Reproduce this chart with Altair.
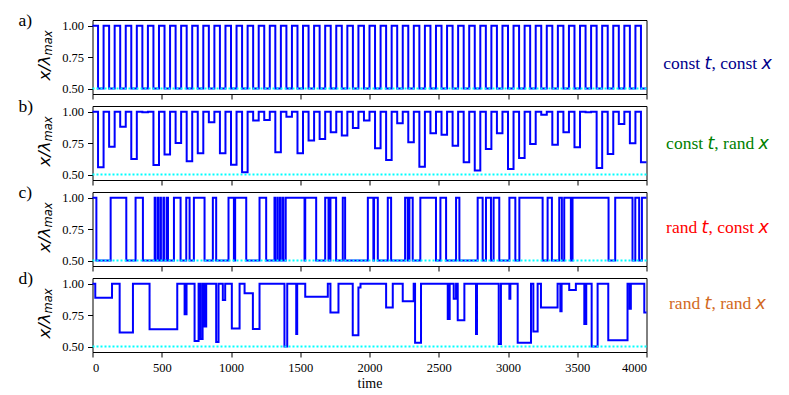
import altair as alt
import pandas as pd

T_END = 4000

# panel a: constant switching times, constant low value
A_SWITCH = [40, 80, 120, 160, 200, 240, 280, 320, 360, 400, 440, 480, 520, 560, 600, 640, 680, 720,
            760, 800, 840, 880, 920, 960, 1000, 1040, 1080, 1120, 1160, 1200, 1240, 1280, 1320, 1360,
            1400, 1440, 1480, 1520, 1560, 1600, 1640, 1680, 1720, 1760, 1800, 1840, 1880, 1920, 1960,
            2000, 2040, 2080, 2120, 2160, 2200, 2240, 2280, 2320, 2360, 2400, 2440, 2480, 2520, 2560,
            2600, 2640, 2680, 2720, 2760, 2800, 2840, 2880, 2920, 2960, 3000, 3040, 3080, 3120, 3160,
            3200, 3240, 3280, 3320, 3360, 3400, 3440, 3480, 3520, 3560, 3600, 3640, 3680, 3720, 3760,
            3800, 3840, 3880, 3920, 3960]
A_LOW = 0.5

# panel b: same switching times, random low values
B_LOW = [0.558, 0.722, 0.881, 0.624, 0.995, 0.577, 0.659, 0.751, 0.606, 0.669,
         0.915, 0.669, 0.579, 0.519, 0.929, 0.934, 0.677, 0.960, 0.669, 0.770,
         0.783, 0.836, 0.810, 0.870, 0.929, 0.709, 0.616, 0.907, 0.757, 0.563,
         0.828, 0.817, 0.730, 0.598, 0.532, 0.704, 0.828, 0.545, 0.632, 0.743,
         0.976, 0.738, 0.836, 0.717, 0.995, 0.553, 0.664, 0.902, 0.749, 0.598]

# panel c: random switching times, constant low value
C_SWITCH = [28, 131, 244, 311, 364, 449, 453, 470, 474, 490, 494, 512, 516, 535,
            545, 588, 636, 677, 701, 732, 809, 869, 893, 982, 1021, 1030, 1110,
            1206, 1254, 1314, 1318, 1334, 1338, 1354, 1358, 1374, 1378,
            1395, 1531, 1536, 1615, 1680, 1704, 1718, 1759, 1807, 1824, 1988, 2028, 2033, 2060,
            2132, 2156, 2257, 2276, 2288, 2312, 2367, 2480, 2512, 2553, 2625, 2649, 2781, 2817, 2841,
            2877, 2896, 2937, 3010, 3053, 3082, 3250, 3286, 3317, 3370, 3389, 3406, 3454, 3466, 3726,
            3774, 3899, 3919, 3947, 3967]
C_LOW = 0.5

# panel d: random switching times, random values
D_T = [0, 20, 141, 196, 292, 412, 612, 665, 679, 737, 766, 780, 795, 809, 821, 893, 910, 941, 958,
       1006, 1062, 1098, 1158, 1206, 1386, 1406, 1471, 1478, 1536, 1699, 1718, 1776, 1879, 1920,
       1935, 2120, 2168, 2240, 2319, 2329, 2372, 2565, 2579, 2608, 2625, 2637, 2685, 2769, 2776,
       2933, 2949, 3010, 3017, 3070, 3166, 3183, 3214, 3238, 3358, 3378, 3387, 3442, 3490, 3551,
       3565, 3604, 3647, 3724, 3863, 3878, 3887, 3984]
D_V = [1.0, 0.889, 1.0, 0.611, 1.0, 0.638, 1.0, 0.757, 1.0, 0.545, 1.0, 0.56, 1.0, 0.66, 1.0, 0.537,
       1.0, 0.87, 1.0, 0.643, 1.0, 0.923, 0.64, 1.0, 0.50, 1.0, 0.60, 1.0, 0.897, 1.0, 0.77, 1.0,
       0.59, 0.97, 1.0, 0.81, 1.0, 0.86, 1.0, 0.53, 1.0, 0.72, 1.0, 0.88, 1.0, 0.71, 1.0, 0.60, 1.0,
       0.52, 1.0, 0.88, 1.0, 0.53, 1.0, 0.62, 1.0, 0.81, 1.0, 0.78, 1.0, 0.95, 1.0, 0.68, 1.0, 0.50,
       1.0, 0.55, 1.0, 0.80, 1.0, 0.77]

X_TICKS = [0, 500, 1000, 1500, 2000, 2500, 3000, 3500, 4000]
Y_TICKS = [0.5, 0.75, 1.0]
REF_LEVEL = 0.5
PANEL_TAGS = ["a)", "b)", "c)", "d)"]
RIGHT_LABELS = [
    [("const ", "serif"), ("t", "math"), (", const ", "serif"), ("x", "math")],
    [("const ", "serif"), ("t", "math"), (", rand ", "serif"), ("x", "math")],
    [("rand ", "serif"), ("t", "math"), (", const ", "serif"), ("x", "math")],
    [("rand ", "serif"), ("t", "math"), (", rand ", "serif"), ("x", "math")],
]
LABEL_COLORS = ["#00008B", "#008000", "#FF0000", "#D2691E"]
Y_TITLE_MAIN = "x/λ"
Y_TITLE_SUB = "max"
X_TITLE = "time"

# ---------------- layout ----------------
W, H = 554, 74
LBL_FS = 17.5
SERIF_W = {'c': .444, 'o': .5, 'n': .5, 's': .389, 't': .278, 'r': .333, 'a': .444,
           'd': .5, ',': .25, ' ': .25}
MATH_W = {'t': .392, 'x': .592}
LABEL_CX = 625.0
LABEL_Y = [44.3, 37.7, 35.7, 25.7]
YT_MAIN_FS, YT_SUB_FS = 16.5, 11.5
YT_X = -47.5
YT_MID = 35.5


def alternating(switch, lows):
    ts = [0] + list(switch)
    vs = []
    for i in range(len(ts)):
        vs.append(1.0 if i % 2 == 0 else lows[(i // 2)])
    ts.append(T_END)
    vs.append(vs[-1])
    return pd.DataFrame({"t": ts, "v": vs})


df_a = alternating(A_SWITCH, [A_LOW] * len(A_SWITCH))
df_b = alternating(A_SWITCH, B_LOW)
df_c = alternating(C_SWITCH, [C_LOW] * len(C_SWITCH))
df_d = pd.DataFrame({"t": D_T + [T_END], "v": D_V + [D_V[-1]]})
frames = [df_a, df_b, df_c, df_d]

yscale = alt.Scale(domain=[0.457, 1.045], nice=False, zero=False)
yaxis = alt.Axis(values=Y_TICKS, format=".2f", title=None, labelFontSize=12.5, labelPadding=4,
                 labelOverlap=False, tickCount=3)


def txt_chart(s):
    return alt.Chart(pd.DataFrame({"s": [s]}))


def panel(i, df, bottom):
    xaxis = alt.Axis(values=X_TICKS, labels=bottom, title=X_TITLE if bottom else None, format="d",
                     labelFontSize=12.5, titleFontSize=14, titleFont="Liberation Serif",
                     titleFontWeight="normal", titlePadding=3, labelPadding=4)
    line = alt.Chart(df).mark_line(interpolate="step-after", color="#0000FF",
                                   strokeWidth=2).encode(
        x=alt.X("t:Q", scale=alt.Scale(domain=[0, T_END], nice=False, zero=False), axis=xaxis),
        y=alt.Y("v:Q", scale=yscale, axis=yaxis),
    )
    rule = alt.Chart(pd.DataFrame({"level": [REF_LEVEL]})).mark_rule(
        color="#00FFFF", strokeWidth=2, strokeDash=[2, 2]).encode(
        y=alt.Y("level:Q", scale=yscale, axis=yaxis), x=alt.value(0), x2=alt.value(W))
    tag = txt_chart(PANEL_TAGS[i]).mark_text(
        align="left", baseline="middle", font="Liberation Serif", fontSize=LBL_FS,
        color="black").encode(x=alt.value(-74), y=alt.value(1), text="s:N")
    main_len = (0.592 + 0.337 + 0.592) * YT_MAIN_FS
    sub_len = (0.974 + 0.613 + 0.592) * YT_SUB_FS
    start = YT_MID + (main_len + sub_len) / 2
    yt_main = txt_chart(Y_TITLE_MAIN).mark_text(
        align="left", baseline="middle", angle=270, font="DejaVu Sans", fontStyle="italic",
        fontSize=YT_MAIN_FS, color="black").encode(
        x=alt.value(YT_X), y=alt.value(start), text="s:N")
    yt_sub = txt_chart(Y_TITLE_SUB).mark_text(
        align="left", baseline="middle", angle=270, font="DejaVu Sans", fontStyle="italic",
        fontSize=YT_SUB_FS, color="black").encode(
        x=alt.value(YT_X + 4), y=alt.value(start - main_len), text="s:N")
    layers = [line, rule, tag, yt_main, yt_sub]
    pieces = RIGHT_LABELS[i]
    widths = []
    for txt, kind in pieces:
        table = SERIF_W if kind == "serif" else MATH_W
        widths.append(sum(table.get(ch, .5) for ch in txt) * LBL_FS)
    x = LABEL_CX - sum(widths) / 2
    for (txt, kind), w in zip(pieces, widths):
        if kind == "serif":
            mk = dict(font="Liberation Serif", fontStyle="normal")
        else:
            mk = dict(font="DejaVu Sans", fontStyle="italic")
        layers.append(txt_chart(txt).mark_text(
            align="left", baseline="middle", fontSize=LBL_FS, color=LABEL_COLORS[i], **mk).encode(
            x=alt.value(x), y=alt.value(LABEL_Y[i]), text="s:N"))
        x += w
    return alt.layer(*layers).properties(width=W, height=H)


chart = alt.vconcat(*[panel(i, frames[i], i == 3) for i in range(4)], spacing=12,
                    bounds="flush").properties(
    padding={"left": 9.5, "top": 3, "right": 0, "bottom": 0}
).configure_view(stroke="black", strokeWidth=1).configure_axis(
    domain=False, grid=False, tickColor="black", tickSize=5, labelColor="black",
    titleColor="black", labelFont="Liberation Serif"
)

chart.save("out.html", embed_options={"renderer": "svg", "actions": False})
